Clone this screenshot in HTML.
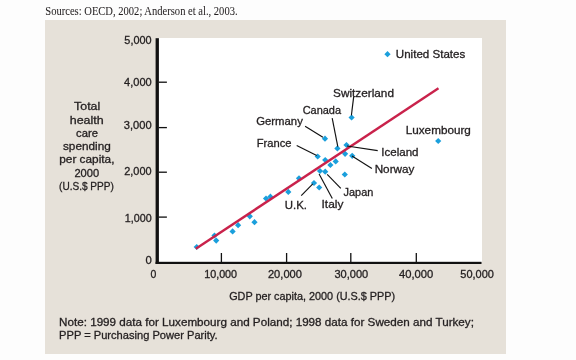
<!DOCTYPE html>
<html><head><meta charset="utf-8"><style>
html,body{margin:0;padding:0;background:#fdfdfd;width:576px;height:360px;overflow:hidden;}
svg{position:absolute;left:0;top:0;will-change:transform;}
text{white-space:pre;}
</style></head><body>
<svg width="576" height="360" viewBox="0 0 576 360">
<rect x="45" y="20" width="461" height="334" fill="#e6e1d9"/>
<rect x="159" y="38" width="323" height="224" fill="#ffffff"/>
<rect x="155.6" y="38.2" width="3.3" height="225.8" fill="#111"/>
<rect x="155.6" y="261.8" width="325.9" height="2.2" fill="#111"/>
<rect x="158.9" y="81.55" width="8" height="1.3" fill="#111"/>
<rect x="158.9" y="126.95" width="8" height="1.3" fill="#111"/>
<rect x="158.9" y="171.55" width="8" height="1.3" fill="#111"/>
<rect x="158.9" y="216.45" width="8" height="1.3" fill="#111"/>
<rect x="220.75" y="253" width="1.3" height="9" fill="#111"/>
<rect x="285.95" y="253" width="1.3" height="9" fill="#111"/>
<rect x="350.15" y="253" width="1.3" height="9" fill="#111"/>
<rect x="415.65" y="253" width="1.3" height="9" fill="#111"/>
<path d="M196.7 243.9L199.79999999999998 247L196.7 250.1L193.6 247Z" fill="#1a9fdc"/>
<path d="M214.5 232.4L217.6 235.5L214.5 238.6L211.4 235.5Z" fill="#1a9fdc"/>
<path d="M216.2 237.5L219.29999999999998 240.6L216.2 243.7L213.1 240.6Z" fill="#1a9fdc"/>
<path d="M232.6 228.3L235.7 231.4L232.6 234.5L229.5 231.4Z" fill="#1a9fdc"/>
<path d="M238.1 222.1L241.2 225.2L238.1 228.29999999999998L235.0 225.2Z" fill="#1a9fdc"/>
<path d="M249.8 213.20000000000002L252.9 216.3L249.8 219.4L246.70000000000002 216.3Z" fill="#1a9fdc"/>
<path d="M254.5 219.1L257.6 222.2L254.5 225.29999999999998L251.4 222.2Z" fill="#1a9fdc"/>
<path d="M266 195.4L269.1 198.5L266 201.6L262.9 198.5Z" fill="#1a9fdc"/>
<path d="M270.4 193.6L273.5 196.7L270.4 199.79999999999998L267.29999999999995 196.7Z" fill="#1a9fdc"/>
<path d="M288.3 188.8L291.40000000000003 191.9L288.3 195.0L285.2 191.9Z" fill="#1a9fdc"/>
<path d="M299 175.20000000000002L302.1 178.3L299 181.4L295.9 178.3Z" fill="#1a9fdc"/>
<path d="M314 179.9L317.1 183L314 186.1L310.9 183Z" fill="#1a9fdc"/>
<path d="M319.2 184.4L322.3 187.5L319.2 190.6L316.09999999999997 187.5Z" fill="#1a9fdc"/>
<path d="M320 167.9L323.1 171L320 174.1L316.9 171Z" fill="#1a9fdc"/>
<path d="M325.2 168.6L328.3 171.7L325.2 174.79999999999998L322.09999999999997 171.7Z" fill="#1a9fdc"/>
<path d="M317.7 153.4L320.8 156.5L317.7 159.6L314.59999999999997 156.5Z" fill="#1a9fdc"/>
<path d="M325.2 156.9L328.3 160L325.2 163.1L322.09999999999997 160Z" fill="#1a9fdc"/>
<path d="M330.4 161.9L333.5 165L330.4 168.1L327.29999999999995 165Z" fill="#1a9fdc"/>
<path d="M335.7 158.3L338.8 161.4L335.7 164.5L332.59999999999997 161.4Z" fill="#1a9fdc"/>
<path d="M344.8 171.4L347.90000000000003 174.5L344.8 177.6L341.7 174.5Z" fill="#1a9fdc"/>
<path d="M325 135.6L328.1 138.7L325 141.79999999999998L321.9 138.7Z" fill="#1a9fdc"/>
<path d="M337.4 145.3L340.5 148.4L337.4 151.5L334.29999999999995 148.4Z" fill="#1a9fdc"/>
<path d="M346.5 141.9L349.6 145L346.5 148.1L343.4 145Z" fill="#1a9fdc"/>
<path d="M345.1 150.70000000000002L348.20000000000005 153.8L345.1 156.9L342.0 153.8Z" fill="#1a9fdc"/>
<path d="M352.2 152.70000000000002L355.3 155.8L352.2 158.9L349.09999999999997 155.8Z" fill="#1a9fdc"/>
<path d="M351.6 114.4L354.70000000000005 117.5L351.6 120.6L348.5 117.5Z" fill="#1a9fdc"/>
<path d="M438.2 137.9L441.3 141L438.2 144.1L435.09999999999997 141Z" fill="#1a9fdc"/>
<path d="M387.5 51.1L390.6 54.2L387.5 57.300000000000004L384.4 54.2Z" fill="#1a9fdc"/>
<line x1="195.8" y1="248.75" x2="438.5" y2="88.3" stroke="#c9224b" stroke-width="2.4"/>
<line x1="353.75" y1="96.4" x2="351.4" y2="115.4" stroke="#111" stroke-width="1.15"/>
<line x1="332.2" y1="118.2" x2="337.8" y2="146.7" stroke="#111" stroke-width="1.15"/>
<line x1="305.1" y1="126.2" x2="322.9" y2="137.3" stroke="#111" stroke-width="1.15"/>
<line x1="296.7" y1="145.6" x2="316.7" y2="155.6" stroke="#111" stroke-width="1.15"/>
<line x1="347" y1="146" x2="377.7" y2="150.6" stroke="#111" stroke-width="1.15"/>
<line x1="352" y1="156" x2="371.9" y2="168.6" stroke="#111" stroke-width="1.15"/>
<line x1="312.8" y1="183.9" x2="301.25" y2="195.6" stroke="#111" stroke-width="1.15"/>
<line x1="319.1" y1="173.9" x2="332.3" y2="198.5" stroke="#111" stroke-width="1.15"/>
<line x1="327.2" y1="174.4" x2="340.8" y2="188.3" stroke="#111" stroke-width="1.15"/>
<text transform="translate(45.28 14.6) scale(0.8800 1)" x="0" y="0" font-family="Liberation Serif" font-size="12" fill="#231f20" stroke="#231f20" stroke-width="0.05">Sources: OECD, 2002; Anderson et al., 2003.</text>
<text transform="translate(74.12 110) scale(1.1236 1)" x="0" y="0" font-family="Liberation Sans" font-size="11" fill="#231f20" stroke="#231f20" stroke-width="0.3">Total</text>
<text transform="translate(69.75 123.5) scale(1.1333 1)" x="0" y="0" font-family="Liberation Sans" font-size="11" fill="#231f20" stroke="#231f20" stroke-width="0.3">health</text>
<text transform="translate(76.04 136.7) scale(1.0220 1)" x="0" y="0" font-family="Liberation Sans" font-size="11" fill="#231f20" stroke="#231f20" stroke-width="0.3">care</text>
<text transform="translate(62.98 150.4) scale(1.0722 1)" x="0" y="0" font-family="Liberation Sans" font-size="11" fill="#231f20" stroke="#231f20" stroke-width="0.3">spending</text>
<text transform="translate(59.25 163.3) scale(1.0765 1)" x="0" y="0" font-family="Liberation Sans" font-size="11" fill="#231f20" stroke="#231f20" stroke-width="0.3">per capita,</text>
<text transform="translate(74.44 176.5) scale(1.0106 1)" x="0" y="0" font-family="Liberation Sans" font-size="11" fill="#231f20" stroke="#231f20" stroke-width="0.3">2000</text>
<text transform="translate(59.06 190.0) scale(0.9162 1)" x="0" y="0" font-family="Liberation Sans" font-size="11" fill="#231f20" stroke="#231f20" stroke-width="0.3">(U.S.$ PPP)</text>
<text transform="translate(124.35 43.9) scale(0.9906 1)" x="0" y="0" font-family="Liberation Sans" font-size="11" fill="#231f20" stroke="#231f20" stroke-width="0.3">5,000</text>
<text transform="translate(124.05 85.9) scale(1.0037 1)" x="0" y="0" font-family="Liberation Sans" font-size="11" fill="#231f20" stroke="#231f20" stroke-width="0.3">4,000</text>
<text transform="translate(123.84 128.9) scale(1.0113 1)" x="0" y="0" font-family="Liberation Sans" font-size="11" fill="#231f20" stroke="#231f20" stroke-width="0.3">3,000</text>
<text transform="translate(124.25 174.8) scale(0.9944 1)" x="0" y="0" font-family="Liberation Sans" font-size="11" fill="#231f20" stroke="#231f20" stroke-width="0.3">2,000</text>
<text transform="translate(124.77 221.9) scale(0.9752 1)" x="0" y="0" font-family="Liberation Sans" font-size="11" fill="#231f20" stroke="#231f20" stroke-width="0.3">1,000</text>
<text transform="translate(145.54 264.4) scale(1.0286 1)" x="0" y="0" font-family="Liberation Sans" font-size="11" fill="#231f20" stroke="#231f20" stroke-width="0.3">0</text>
<text transform="translate(150.57 277.8) scale(0.9524 1)" x="0" y="0" font-family="Liberation Sans" font-size="11" fill="#231f20" stroke="#231f20" stroke-width="0.3">0</text>
<text transform="translate(204.17 277.8) scale(0.9799 1)" x="0" y="0" font-family="Liberation Sans" font-size="11" fill="#231f20" stroke="#231f20" stroke-width="0.3">10,000</text>
<text transform="translate(267.94 278.0) scale(1.0107 1)" x="0" y="0" font-family="Liberation Sans" font-size="11" fill="#231f20" stroke="#231f20" stroke-width="0.3">20,000</text>
<text transform="translate(334.45 278.0) scale(1.0046 1)" x="0" y="0" font-family="Liberation Sans" font-size="11" fill="#231f20" stroke="#231f20" stroke-width="0.3">30,000</text>
<text transform="translate(398.95 278.0) scale(1.0197 1)" x="0" y="0" font-family="Liberation Sans" font-size="11" fill="#231f20" stroke="#231f20" stroke-width="0.3">40,000</text>
<text transform="translate(460.35 278.0) scale(0.9985 1)" x="0" y="0" font-family="Liberation Sans" font-size="11" fill="#231f20" stroke="#231f20" stroke-width="0.3">50,000</text>
<text transform="translate(229.16 299.7) scale(0.9863 1)" x="0" y="0" font-family="Liberation Sans" font-size="11" fill="#231f20" stroke="#231f20" stroke-width="0.3">GDP per capita, 2000 (U.S.$ PPP)</text>
<text transform="translate(59.04 326.4) scale(1.0614 1)" x="0" y="0" font-family="Liberation Sans" font-size="11" fill="#231f20" stroke="#231f20" stroke-width="0.3">Note: 1999 data for Luxembourg and Poland; 1998 data for Sweden and Turkey;</text>
<text transform="translate(59.09 339.4) scale(1.0113 1)" x="0" y="0" font-family="Liberation Sans" font-size="11" fill="#231f20" stroke="#231f20" stroke-width="0.3">PPP = Purchasing Power Parity.</text>
<text transform="translate(395.81 57.7) scale(1.0525 1)" x="0" y="0" font-family="Liberation Sans" font-size="11" fill="#231f20" stroke="#231f20" stroke-width="0.3">United States</text>
<text transform="translate(333.06 96.9) scale(1.0728 1)" x="0" y="0" font-family="Liberation Sans" font-size="11" fill="#231f20" stroke="#231f20" stroke-width="0.3">Switzerland</text>
<text transform="translate(302.65 113.8) scale(0.9974 1)" x="0" y="0" font-family="Liberation Sans" font-size="11" fill="#231f20" stroke="#231f20" stroke-width="0.3">Canada</text>
<text transform="translate(256.13 125.0) scale(1.0325 1)" x="0" y="0" font-family="Liberation Sans" font-size="11" fill="#231f20" stroke="#231f20" stroke-width="0.3">Germany</text>
<text transform="translate(256.68 147.2) scale(1.0167 1)" x="0" y="0" font-family="Liberation Sans" font-size="11" fill="#231f20" stroke="#231f20" stroke-width="0.3">France</text>
<text transform="translate(405.74 133.75) scale(1.0647 1)" x="0" y="0" font-family="Liberation Sans" font-size="11" fill="#231f20" stroke="#231f20" stroke-width="0.3">Luxembourg</text>
<text transform="translate(381.25 155.6) scale(1.0519 1)" x="0" y="0" font-family="Liberation Sans" font-size="11" fill="#231f20" stroke="#231f20" stroke-width="0.3">Iceland</text>
<text transform="translate(374.64 173.3) scale(1.0674 1)" x="0" y="0" font-family="Liberation Sans" font-size="11" fill="#231f20" stroke="#231f20" stroke-width="0.3">Norway</text>
<text transform="translate(343.55 196.1) scale(0.9931 1)" x="0" y="0" font-family="Liberation Sans" font-size="11" fill="#231f20" stroke="#231f20" stroke-width="0.3">Japan</text>
<text transform="translate(284.72 208.75) scale(1.0384 1)" x="0" y="0" font-family="Liberation Sans" font-size="11" fill="#231f20" stroke="#231f20" stroke-width="0.3">U.K.</text>
<text transform="translate(321.51 208.1) scale(1.0862 1)" x="0" y="0" font-family="Liberation Sans" font-size="11" fill="#231f20" stroke="#231f20" stroke-width="0.3">Italy</text>
</svg></body></html>
